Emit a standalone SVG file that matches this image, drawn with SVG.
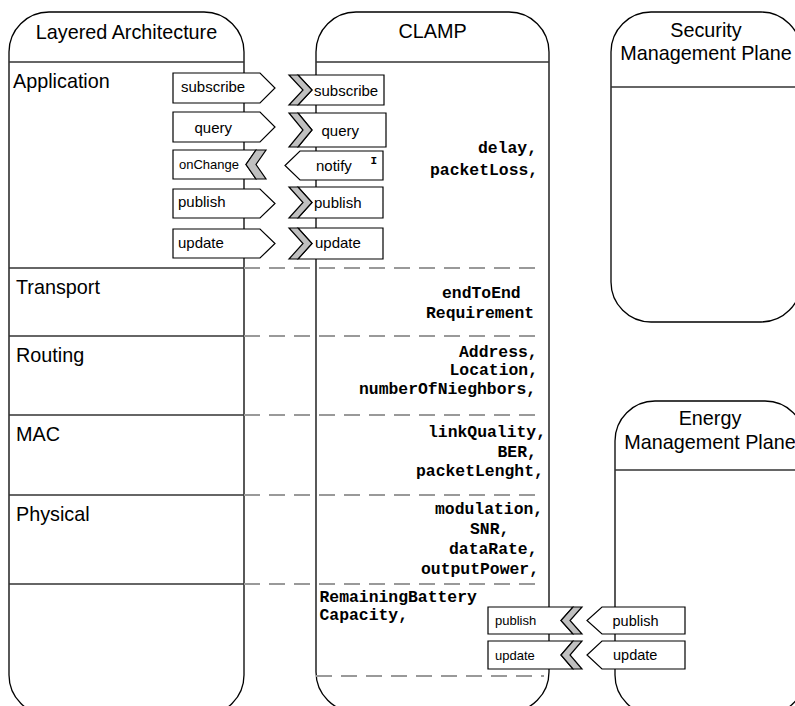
<svg xmlns="http://www.w3.org/2000/svg" width="795" height="706" viewBox="0 0 795 706">
<style>
.panel{fill:#fff;stroke:#000;stroke-width:1.3}
.hline{stroke:#333;stroke-width:1.3;fill:none}
.dash{stroke:#999;stroke-width:2;stroke-dasharray:16 9;fill:none}
.box{fill:#fff;stroke:#000;stroke-width:1.2}
.chev{fill:#c0c0c0;stroke:#000;stroke-width:1.2}
.hdr{font-family:"Liberation Sans",Arial,sans-serif;font-size:19.8px;fill:#000}
.lbl{font-family:"Liberation Sans",Arial,sans-serif;font-size:15px;fill:#000}
.sm{font-family:"Liberation Sans",Arial,sans-serif;font-size:13px;fill:#000}
.mono{font-family:"Liberation Mono","Courier New",monospace;font-size:16.4px;font-weight:bold;fill:#000}
</style>
<rect width="795" height="706" fill="#fff"/>

<g id="layered-architecture">
<rect class="panel" x="9" y="12" width="235" height="703" rx="40" ry="40"/>
<line class="hline" x1="9" y1="62" x2="244" y2="62"/>
<line class="hline" x1="9" y1="268" x2="244" y2="268"/>
<line class="hline" x1="9" y1="336" x2="244" y2="336"/>
<line class="hline" x1="9" y1="415" x2="244" y2="415"/>
<line class="hline" x1="9" y1="495" x2="244" y2="495"/>
<line class="hline" x1="9" y1="584" x2="244" y2="584"/>
<text class="hdr" x="126.5" y="39" text-anchor="middle">Layered Architecture</text>
<text class="hdr" x="13" y="88">Application</text>
<text class="hdr" x="16" y="294">Transport</text>
<text class="hdr" x="16" y="362">Routing</text>
<text class="hdr" x="16" y="441">MAC</text>
<text class="hdr" x="16" y="521">Physical</text>
</g>

<g id="clamp">
<rect class="panel" x="316" y="12" width="233" height="700" rx="40" ry="40"/>
<line class="hline" x1="316" y1="62" x2="549" y2="62"/>
<text class="hdr" x="432.5" y="38" text-anchor="middle">CLAMP</text>
<text class="mono" x="478" y="153">delay,</text>
<text class="mono" x="430" y="175">packetLoss,</text>
<text class="mono" x="442" y="298">endToEnd</text>
<text class="mono" x="426" y="317.5">Requirement</text>
<text class="mono" x="459" y="356.5">Address,</text>
<text class="mono" x="449.5" y="375">Location,</text>
<text class="mono" x="359" y="394">numberOfNieghbors,</text>
<text class="mono" x="428" y="436.5">linkQuality,</text>
<text class="mono" x="497.5" y="456.5">BER,</text>
<text class="mono" x="416" y="476">packetLenght,</text>
<text class="mono" x="435" y="513.5">modulation,</text>
<text class="mono" x="470" y="534">SNR,</text>
<text class="mono" x="449" y="553.5">dataRate,</text>
<text class="mono" x="421" y="573.5">outputPower,</text>
<text class="mono" x="319.5" y="601.5">RemainingBattery</text>
<text class="mono" x="319.5" y="619.5">Capacity,</text>
</g>

<g id="security-management-plane">
<rect class="panel" x="611" y="12" width="190" height="310" rx="40" ry="40"/>
<line class="hline" x1="611" y1="87" x2="801" y2="87"/>
<text class="hdr" x="706" y="36.5" text-anchor="middle">Security</text>
<text class="hdr" x="706" y="60" text-anchor="middle">Management Plane</text>
</g>

<g id="energy-management-plane">
<rect class="panel" x="615" y="401" width="190" height="314" rx="40" ry="40"/>
<line class="hline" x1="615" y1="470" x2="805" y2="470"/>
<text class="hdr" x="710" y="424.5" text-anchor="middle">Energy</text>
<text class="hdr" x="710" y="448.5" text-anchor="middle">Management Plane</text>
</g>

<g id="separators">
<line class="dash" x1="244" y1="268" x2="544" y2="268"/>
<line class="dash" x1="244" y1="336" x2="544" y2="336"/>
<line class="dash" x1="244" y1="415" x2="544" y2="415"/>
<line class="dash" x1="244" y1="495" x2="544" y2="495"/>
<line class="dash" x1="244" y1="584" x2="544" y2="584"/>
<line class="dash" x1="316" y1="676" x2="544" y2="676"/>
</g>

<g id="app-subscribe">
<polygon class="box" points="173,73 260,73 275,88 260,103 173,103"/>
<text class="lbl" x="181" y="92">subscribe</text>
</g>
<g id="app-query">
<polygon class="box" points="173,112 260,112 275,127 260,142 173,142"/>
<text class="lbl" x="194.5" y="132.5">query</text>
</g>
<g id="app-onchange">
<polygon class="box" points="173,150 256,150 246,164.5 256,179 173,179"/>
<polygon class="chev" points="256,150 266,150 256,164.5 266,179 256,179 246,164.5"/>
<text class="sm" x="179" y="169">onChange</text>
</g>
<g id="app-publish">
<polygon class="box" points="173,189 260,189 275,203.5 260,218 173,218"/>
<text class="lbl" x="178" y="207">publish</text>
</g>
<g id="app-update">
<polygon class="box" points="173,229 260,229 275,243.5 260,258 173,258"/>
<text class="lbl" x="178" y="247.5">update</text>
</g>

<g id="clamp-subscribe">
<polygon class="box" points="298,75 384,75 384,105 298,105 312,90"/>
<polygon class="chev" points="289,75 298,75 312,90 298,105 289,105 303,90"/>
<text class="lbl" x="314" y="95.5">subscribe</text>
</g>
<g id="clamp-query">
<polygon class="box" points="298,113 386,113 386,147 298,147 312,130"/>
<polygon class="chev" points="289,113 298,113 312,130 298,147 289,147 303,130"/>
<text class="lbl" x="321.5" y="135.5">query</text>
</g>
<g id="clamp-notify">
<polygon class="box" points="300,151 383,151 383,180 300,180 285,165.5"/>
<text class="lbl" x="316" y="170.5">notify</text>
<text class="mono" x="370.5" y="163.5" style="font-size:11px">I</text>
</g>
<g id="clamp-publish">
<polygon class="box" points="298,187 383,187 383,218 298,218 312,202.5"/>
<polygon class="chev" points="289,187 298,187 312,202.5 298,218 289,218 303,202.5"/>
<text class="lbl" x="314" y="208">publish</text>
</g>
<g id="clamp-update">
<polygon class="box" points="298,228 383,228 383,259 298,259 312,243.5"/>
<polygon class="chev" points="289,228 298,228 312,243.5 298,259 289,259 303,243.5"/>
<text class="lbl" x="315" y="247.5">update</text>
</g>

<g id="clamp-energy-publish">
<polygon class="box" points="488,607 573,607 561,620.5 573,634 488,634"/>
<polygon class="chev" points="573,607 582,607 570,620.5 582,634 573,634 561,620.5"/>
<text class="sm" x="495" y="624.5">publish</text>
</g>
<g id="clamp-energy-update">
<polygon class="box" points="488,641 573,641 561,655 573,669 488,669"/>
<polygon class="chev" points="573,641 582,641 570,655 582,669 573,669 561,655"/>
<text class="sm" x="495" y="659.5">update</text>
</g>
<g id="energy-publish">
<polygon class="box" points="602,607 685,607 685,634 602,634 587,620.5"/>
<text class="lbl" x="612.5" y="625.5" style="font-size:14.5px">publish</text>
</g>
<g id="energy-update">
<polygon class="box" points="602,641 685,641 685,669 602,669 587,655"/>
<text class="lbl" x="613" y="660" style="font-size:14.5px">update</text>
</g>

<g id="connectors"></g>
</svg>
